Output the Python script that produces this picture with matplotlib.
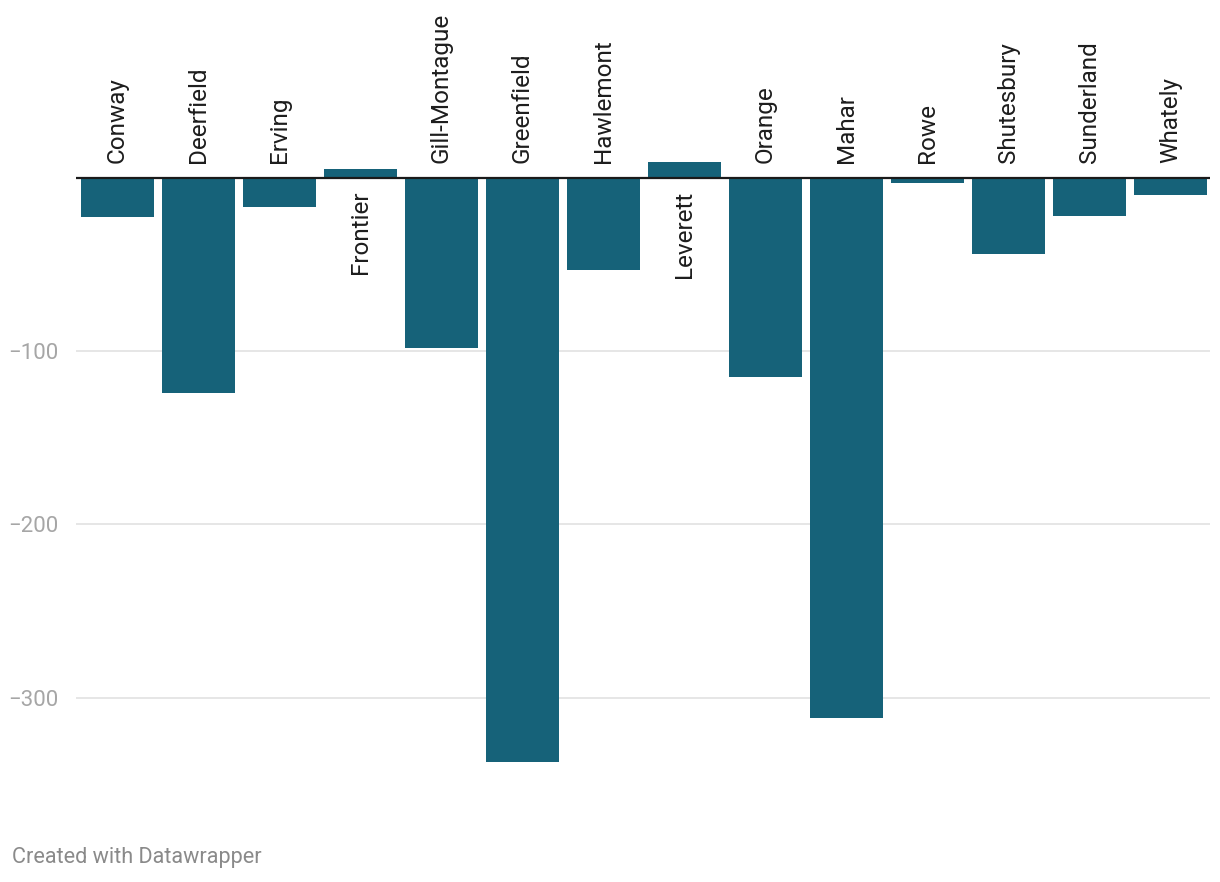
import matplotlib
matplotlib.use("Agg")
import matplotlib.pyplot as plt

districts = ["Conway", "Deerfield", "Erving", "Frontier", "Gill-Montague", "Greenfield",
             "Hawlemont", "Leverett", "Orange", "Mahar", "Rowe", "Shutesbury",
             "Sunderland", "Whately"]
values = [-22.3, -124, -16.6, 5.2, -98, -337, -53, 9.2, -114.7, -312, -2.7, -43.7, -21.8, -9.6]
yticks = [-100, -200, -300]
ytick_labels = ["\u2212100", "\u2212200", "\u2212300"]

plt.rcParams['font.family'] = ['Roboto', 'DejaVu Sans']

W, H = 1220, 882
fig = plt.figure(figsize=(W / 100, H / 100), dpi=100)
top_px, bot_px, zero_px, scale = 100, 800, 178, 1.732
ax = fig.add_axes([76 / W, (H - bot_px) / H, (1210 - 76) / W, (bot_px - top_px) / H])
ax.set_ylim(-(bot_px - zero_px) / scale, (zero_px - top_px) / scale)
ax.set_xlim((76 - 117.5) / 81, (1210 - 117.5) / 81)

color = "#166279"
x = list(range(len(districts)))
ax.bar(x, values, width=73 / 81, color=color, zorder=2)
ax.axhline(0, color="#1a1a1a", lw=1.6, zorder=3)
for yt in yticks:
    ax.axhline(yt, color="#e6e6e6", lw=1.4, zorder=1)

ax.set_yticks(yticks)
ax.set_yticklabels(ytick_labels, color="#a6a6a6", fontsize=16)
ax.tick_params(axis='y', length=0, pad=13)
ax.set_xticks([])
for s in ax.spines.values():
    s.set_visible(False)

for xi, name, v in zip(x, districts, values):
    if v < 0:
        ax.annotate(name, (xi, 0), xytext=(0, 11), textcoords='offset points',
                    rotation=90, ha='center', va='bottom', fontsize=17.5, color="#1d1d1d",
                    annotation_clip=False)
    else:
        ax.annotate(name, (xi, 0), xytext=(0, -9), textcoords='offset points',
                    rotation=90, ha='center', va='top', fontsize=17.5, color="#1d1d1d",
                    annotation_clip=False)

fig.text(12 / W, 1 - 858 / H, "Created with Datawrapper", fontsize=15.6, color="#8a8a8a",
         ha='left', va='center')

fig.savefig("out.png", dpi=100)
